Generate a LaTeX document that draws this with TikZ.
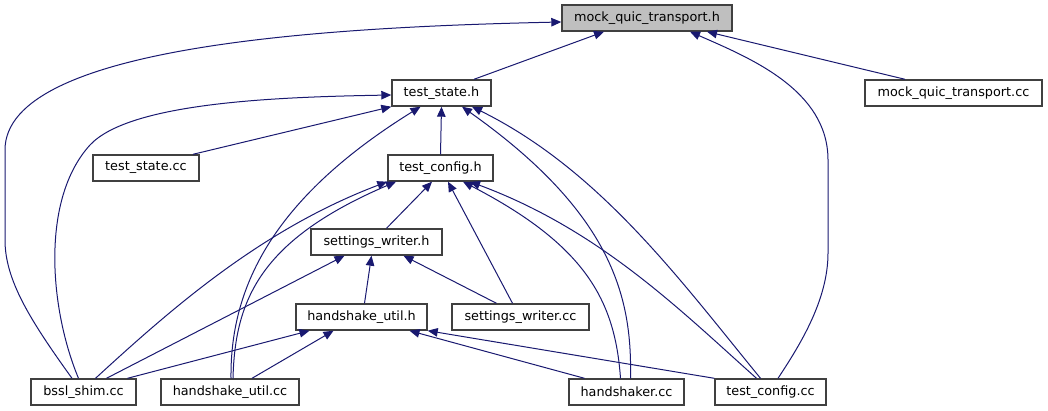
\documentclass[tikz,border=0pt]{standalone}
\usepackage{fontspec}
\setmainfont{DejaVu Sans}
\usetikzlibrary{arrows.meta}

\definecolor{edgeblue}{HTML}{191970}
\definecolor{boxline}{HTML}{404040}
\definecolor{mainfill}{HTML}{BFBFBF}

\tikzset{
  file/.style={draw=boxline, line width=1.4pt, fill=white, minimum height=26pt, inner sep=0pt, font=\fontsize{12.8}{14}\selectfont},
  incl/.style={draw=edgeblue, line width=1pt, -{Triangle[length=10pt,width=8.5pt]}},
}

\begin{document}
\begin{tikzpicture}[x=1pt, y=-1pt]
\useasboundingbox (0,0) rectangle (1048,411);

% the files
\node[file, fill=mainfill, minimum width=170pt] (mock) at (647,18) {mock\_quic\_transport.h};
\node[file, minimum width=99pt] (ts) at (441.5,93) {test\_state.h};
\node[file, minimum width=177pt] (mockcc) at (953.5,93) {mock\_quic\_transport.cc};
\node[file, minimum width=106pt] (tscc) at (146,168) {test\_state.cc};
\node[file, minimum width=105pt] (tc) at (440.5,168) {test\_config.h};
\node[file, minimum width=131pt] (swh) at (376.5,242) {settings\_writer.h};
\node[file, minimum width=131pt] (huh) at (361.5,317) {handshake\_util.h};
\node[file, minimum width=137pt] (swcc) at (520.5,317) {settings\_writer.cc};
\node[file, minimum width=105pt] (bssl) at (83.5,392) {bssl\_shim.cc};
\node[file, minimum width=138pt] (hucc) at (230,392) {handshake\_util.cc};
\node[file, minimum width=115pt] (hs) at (626.5,392) {handshaker.cc};
\node[file, minimum width=111pt] (tccc) at (770.5,392) {test\_config.cc};

% includes of mock_quic_transport.h
\draw[incl] ([xshift=32.5pt]ts.north) -- ([xshift=-43pt]mock.south);
\draw[incl] ([xshift=-48.5pt]mockcc.north) -- ([xshift=60pt]mock.south);
\draw[incl] ([xshift=-11.5pt]bssl.north) .. controls (30,320) and (5,280) .. (5,240) -- (5,150)
  .. controls (5,45) and (330,27) .. ([yshift=-4pt]mock.west);
\draw[incl] ([xshift=7.5pt]tccc.north) .. controls (800,345) and (828,300) .. (828,253) -- (828,160)
  .. controls (828,90) and (750,58) .. ([xshift=43pt]mock.south);

% includes of test_state.h
\draw[incl] (tc.north) -- (ts.south);
\draw[incl] ([xshift=47pt]tscc.north) -- (ts.south west);
\draw[incl] ([xshift=-5pt]bssl.north) .. controls (50,310) and (40,200) .. (90,145)
  .. controls (130,102) and (280,97) .. ([yshift=-2pt]ts.west);
\draw[incl] ([xshift=1pt]hucc.north) .. controls (230,290) and (270,200) .. ([xshift=-21pt]ts.south);
\draw[incl] ([xshift=4pt]hs.north) .. controls (632,300) and (615,215) .. ([xshift=20.5pt]ts.south);
\draw[incl] ([xshift=-10pt]tccc.north) .. controls (680,280) and (600,170) .. ([xshift=30.5pt]ts.south);

% includes of test_config.h
\draw[incl] ([xshift=12pt]bssl.north) .. controls (170,310) and (260,230) .. (tc.south west);
\draw[incl] ([xshift=3pt]hucc.north) .. controls (235,300) and (260,240) .. ([xshift=-44.5pt]tc.south);
\draw[incl] ([xshift=10pt]swh.north) -- ([xshift=-8.5pt]tc.south);
\draw[incl] ([xshift=-8pt]swcc.north) -- ([xshift=7.5pt]tc.south);
\draw[incl] ([xshift=-6pt]hs.north) .. controls (615,300) and (585,245) .. ([xshift=22.5pt]tc.south);
\draw[incl] ([xshift=-14pt]tccc.north) .. controls (680,310) and (600,230) .. ([xshift=29.5pt]tc.south);

% includes of settings_writer.h
\draw[incl] ([xshift=23pt]bssl.north) -- ([xshift=-32pt]swh.south);
\draw[incl] ([xshift=3pt]huh.north) -- ([xshift=-5pt]swh.south);
\draw[incl] ([xshift=-24pt]swcc.north) -- ([xshift=27pt]swh.south);

% includes of handshake_util.h
\draw[incl] ([xshift=44pt]bssl.north) -- ([xshift=-52pt]huh.south);
\draw[incl] ([xshift=22pt]hucc.north) -- ([xshift=-28pt]huh.south);
\draw[incl] ([xshift=-42pt]hs.north) -- ([xshift=48pt]huh.south);
\draw[incl] (tccc.north west) -- (huh.south east);
\end{tikzpicture}
\end{document}
